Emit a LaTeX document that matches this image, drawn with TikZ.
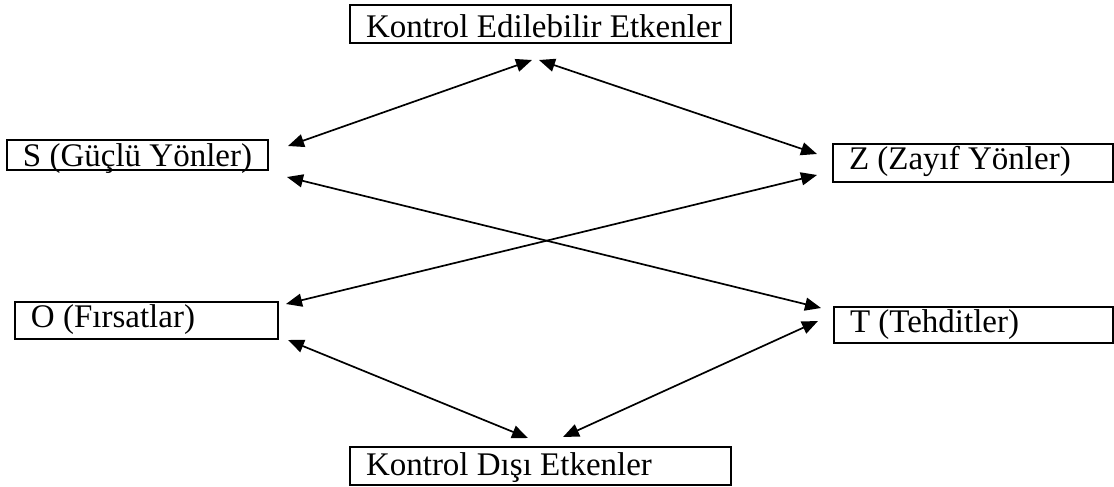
\documentclass[tikz,border=0pt]{standalone}
\usepackage{fontspec}
\setmainfont{Liberation Serif}
\usetikzlibrary{arrows.meta}
\begin{document}
\begin{tikzpicture}[x=0.5pt,y=-0.5pt,
  box/.style={draw, line width=1pt, rectangle, inner xsep=8pt, inner ysep=0pt, align=flush left,
    font=\fontsize{16.5}{19}\selectfont},
  link/.style={line width=0.85pt, {Triangle[length=8pt,width=6.5pt]}-{Triangle[length=8pt,width=6.5pt]}}]
\useasboundingbox (0,0) rectangle (1114,487);
\node[box, text width=174.5pt, text height=16pt, text depth=3pt] (top) at (540.5,24) {\mbox{Kontrol Edilebilir Etkenler}};
\node[box, text width=114.5pt, text height=13pt, text depth=2pt] (s) at (137.5,155) {\mbox{S (Güçlü Yönler)}};
\node[box, text width=124pt, text height=12.5pt, text depth=6.5pt] (z) at (973,163) {\mbox{Z (Zayıf Yönler)}};
\node[box, text width=115.5pt, text height=12.5pt, text depth=6pt] (o) at (146.5,320.5) {\mbox{O (Fırsatlar)}};
\node[box, text width=123.5pt, text height=12.5pt, text depth=5.5pt] (t) at (973.5,325) {\mbox{T (Tehditler)}};
\node[box, text width=174.5pt, text height=14pt, text depth=5pt] (bot) at (540.5,466) {\mbox{Kontrol Dışı Etkenler}};
\coordinate (ts) at (532,60);
\coordinate (st) at (288,146);
\coordinate (tz) at (539,60);
\coordinate (zt) at (817,154);
\coordinate (sT) at (287,177);
\coordinate (Ts) at (821,308);
\coordinate (zo) at (817,175);
\coordinate (oz) at (286,304);
\coordinate (ob) at (288,340);
\coordinate (bo) at (528,438);
\coordinate (tb) at (818,321);
\coordinate (bt) at (563,437);
\draw[link] (ts) -- (st);
\draw[link] (tz) -- (zt);
\draw[link] (sT) -- (Ts);
\draw[link] (zo) -- (oz);
\draw[link] (ob) -- (bo);
\draw[link] (tb) -- (bt);
\end{tikzpicture}
\end{document}
